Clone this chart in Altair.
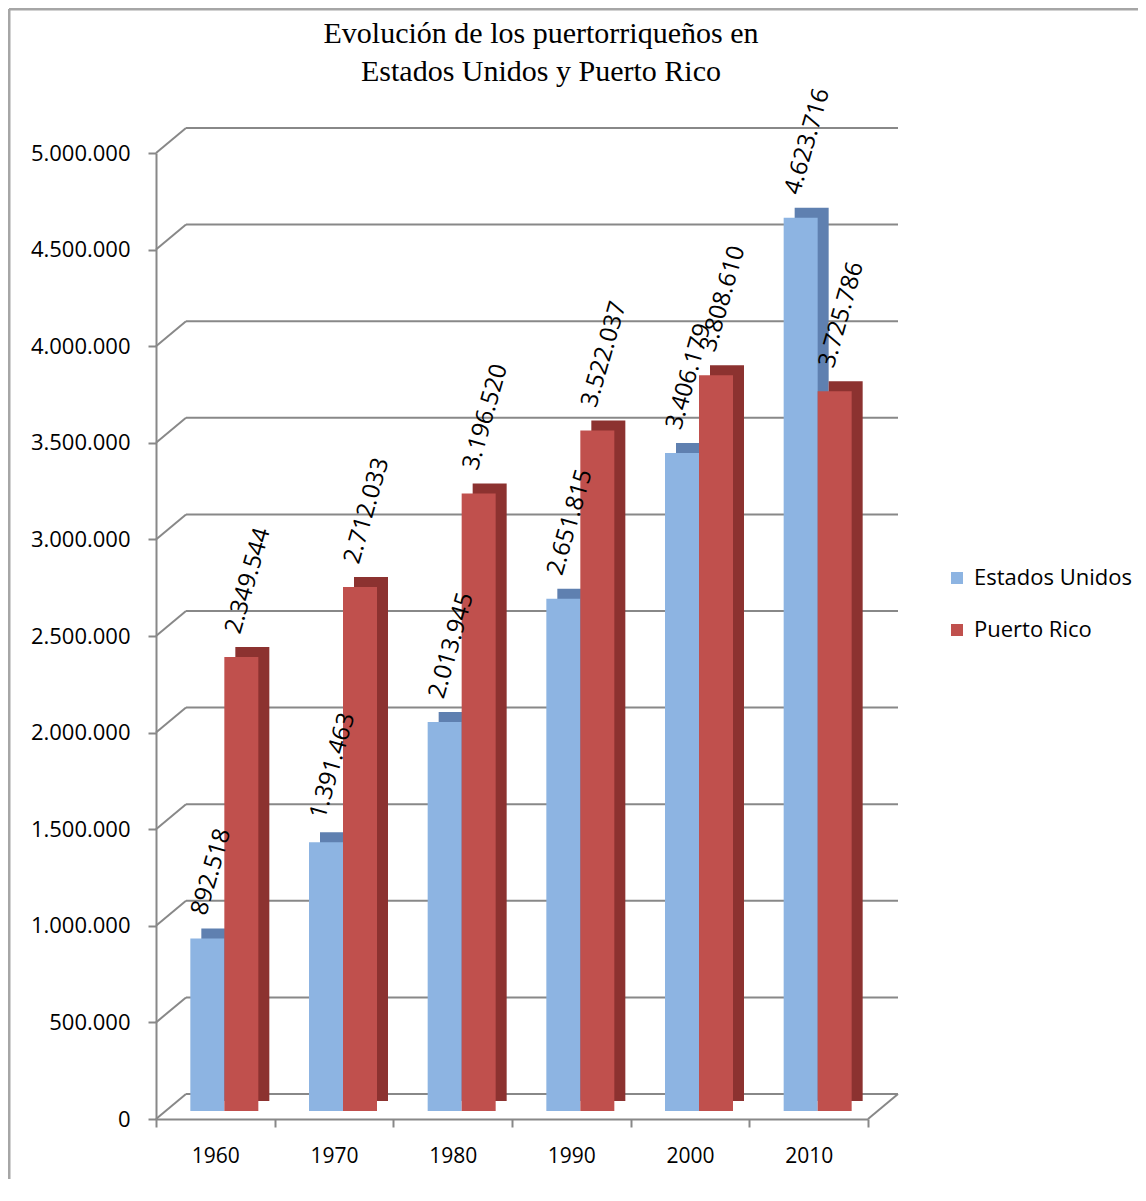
import altair as alt
import pandas as pd

YEARS = ["1960", "1970", "1980", "1990", "2000", "2010"]
ESTADOS_UNIDOS = [892518, 1391463, 2013945, 2651815, 3406179, 4623716]
PUERTO_RICO = [2349544, 2712033, 3196520, 3522037, 3808610, 3725786]
SERIES = ["Estados Unidos", "Puerto Rico"]
TICKS = [0, 500000, 1000000, 1500000, 2000000, 2500000, 3000000,
         3500000, 4000000, 4500000, 5000000]
TITLE = "Evolución de los puertorriqueños en\nEstados Unidos y Puerto Rico"

FRONT = ["#8DB4E2", "#C0504D"]
SIDE = ["#5F80B0", "#8C3230"]
GRIDC = "#888888"
OFFS = [-8, 26]          # front-face centre relative to band centre
DEPTH_X, DEPTH_Y = 11, 10  # 3D depth of bars
W, H = 712, 966

rows = []
for s, vals in zip(SERIES, [ESTADOS_UNIDOS, PUERTO_RICO]):
    for yr, v in zip(YEARS, vals):
        rows.append({"anio": yr, "serie": s, "valor": v,
                     "etiqueta": f"{v:,}".replace(",", ".")})
df = pd.DataFrame(rows)
ticks_df = pd.DataFrame({"v": TICKS})
one = pd.DataFrame({"a": [0]})

yscale = alt.Scale(domain=[0, 5000000], nice=False)
xscale = alt.Scale(domain=YEARS, paddingInner=0, paddingOuter=0)

x_axis = alt.Axis(title=None, labelAngle=0, tickBand="extent",
                  domainColor=GRIDC, domainWidth=2, tickColor=GRIDC, tickWidth=2,
                  tickSize=8, labelFontSize=21, labelFont="Open Sans",
                  labelColor="black", labelPadding=18)
y_axis = alt.Axis(title=None, values=TICKS, grid=False,
                  domainColor=GRIDC, domainWidth=2, tickColor=GRIDC, tickWidth=2,
                  tickSize=8, labelFontSize=22, labelFont="Open Sans",
                  labelColor="black", labelPadding=18,
                  labelExpr="replace(format(datum.value, ','), regexp(',', 'g'), '.')")

X = alt.X("anio:N", scale=xscale, axis=x_axis)
Y = alt.Y("valor:Q", scale=yscale, axis=y_axis)
YV = alt.Y("v:Q", scale=yscale, axis=y_axis)

# frame
frame_l = alt.Chart(one).mark_rule(color="#A6A6A6", strokeWidth=3).encode(
    x=alt.value(-147), y=alt.value(-144), y2=alt.value(1030))
frame_t = alt.Chart(one).mark_rule(color="#A6A6A6", strokeWidth=3).encode(
    x=alt.value(-147), x2=alt.value(990), y=alt.value(-144))

# title (as text)
title = alt.Chart(one).mark_text(
    font="Liberation Serif", fontSize=30, lineHeight=38, align="center",
    baseline="top", lineBreak="\n", color="black").encode(
    x=alt.value(385), y=alt.value(-134), text=alt.value(TITLE))

# back wall gridlines and perspective diagonals
grid = alt.Chart(ticks_df).mark_rule(color=GRIDC, strokeWidth=2, yOffset=-25).encode(
    x=alt.value(30), x2=alt.value(W + 30), y=YV)
diag = alt.Chart(ticks_df).mark_rule(color=GRIDC, strokeWidth=2, y2Offset=-25).encode(
    x=alt.value(0), x2=alt.value(30), y=YV, y2="v:Q")
diag_r = alt.Chart(ticks_df).transform_filter("datum.v == 0").mark_rule(
    color=GRIDC, strokeWidth=2, y2Offset=-25).encode(
    x=alt.value(W), x2=alt.value(W + 30), y=YV, y2="v:Q")

layers = [frame_l, frame_t, title, grid, diag, diag_r]

# depth (side + top) faces
for i, s in enumerate(SERIES):
    layers.append(
        alt.Chart(df).transform_filter(alt.datum.serie == s).mark_bar(
            width=34, color=SIDE[i], xOffset=OFFS[i] + DEPTH_X,
            yOffset=-8 - DEPTH_Y, y2Offset=-8).encode(x=X, y=Y))

legend = alt.Legend(title=None, orient="none", legendX=790, legendY=414,
                    symbolType="square", symbolSize=144, symbolStrokeWidth=0,
                    labelFontSize=22, labelFont="Open Sans", labelColor="black",
                    rowPadding=30, labelOffset=6, padding=0)

# front faces
for i, s in enumerate(SERIES):
    layers.append(
        alt.Chart(df).transform_filter(alt.datum.serie == s).mark_bar(
            width=34, xOffset=OFFS[i], yOffset=-8, y2Offset=-8).encode(
            x=X, y=Y,
            color=alt.Color("serie:N",
                            scale=alt.Scale(domain=SERIES, range=FRONT),
                            legend=legend)))

# value labels
for i, s in enumerate(SERIES):
    layers.append(
        alt.Chart(df).transform_filter(alt.datum.serie == s).mark_text(
            angle=286, align="left", baseline="middle",
            xOffset=OFFS[i] - 8, yOffset=-32,
            font="Open Sans", fontSize=24, color="black").encode(
            x=X, y=Y, text="etiqueta:N"))

chart = alt.layer(*layers).properties(
    width=W, height=H,
    autosize=alt.AutoSizeParams(type="none"),
    padding={"left": 148, "top": 145, "right": 270, "bottom": 60},
).configure_view(strokeWidth=0)

chart.save("out.html", embed_options={"renderer": "svg", "actions": False})
